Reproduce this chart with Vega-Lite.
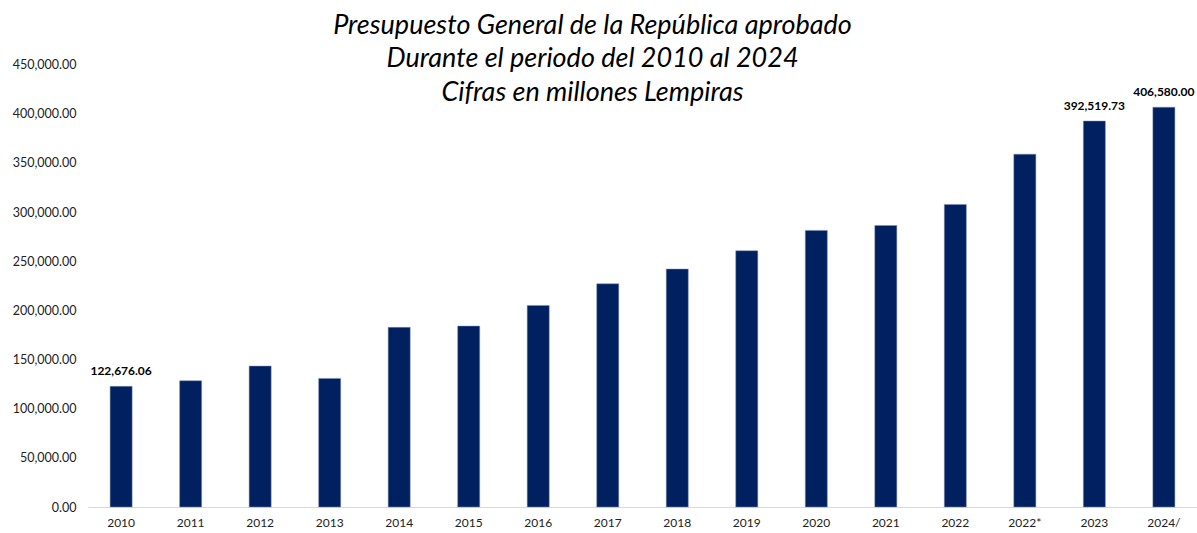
{
  "$schema": "https://vega.github.io/schema/vega-lite/v6.json",
  "autosize": {"type": "none"},
  "padding": {"left": 88, "top": 64.5, "right": 0, "bottom": 26},
  "width": 1109,
  "height": 442.5,
  "background": "white",
  "title": {
    "text": ["Presupuesto General de la República aprobado", "Durante el periodo del 2010 al 2024", "Cifras en millones Lempiras"],
    "font": "Lato",
    "fontStyle": "italic",
    "fontWeight": "normal",
    "fontSize": 27,
    "lineHeight": 33.5,
    "color": "#000000",
    "anchor": "middle",
    "frame": "group",
    "dx": -50,
    "offset": -48
  },
  "data": {
    "values": [
      {"year": "2010", "value": 122676.06},
      {"year": "2011", "value": 128400},
      {"year": "2012", "value": 143300},
      {"year": "2013", "value": 130800},
      {"year": "2014", "value": 182700},
      {"year": "2015", "value": 184000},
      {"year": "2016", "value": 205000},
      {"year": "2017", "value": 227000},
      {"year": "2018", "value": 242000},
      {"year": "2019", "value": 260600},
      {"year": "2020", "value": 281300},
      {"year": "2021", "value": 286300},
      {"year": "2022", "value": 307700},
      {"year": "2022*", "value": 358800},
      {"year": "2023", "value": 392519.73},
      {"year": "2024/", "value": 406580.00}
    ]
  },
  "encoding": {
    "x": {
      "field": "year",
      "type": "nominal",
      "sort": null,
      "scale": {"paddingInner": 0.683, "paddingOuter": 0.318},
      "axis": {
        "title": null,
        "labelAngle": 0,
        "labelFont": "Lato",
        "labelFontSize": 12,
        "labelColor": "#222222",
        "labelPadding": 10,
        "ticks": false,
        "domainColor": "#d9d9d9",
        "domainWidth": 1.2,
        "grid": false
      }
    },
    "y": {
      "field": "value",
      "type": "quantitative",
      "scale": {"domain": [0, 450000], "nice": false},
      "axis": {
        "title": null,
        "format": ",.2f",
        "values": [0, 50000, 100000, 150000, 200000, 250000, 300000, 350000, 400000, 450000],
        "labelFont": "Lato",
        "labelFontSize": 12.5,
        "labelColor": "#222222",
        "labelPadding": 12,
        "ticks": false,
        "domain": false,
        "grid": false
      }
    }
  },
  "layer": [
    {
      "mark": {"type": "bar", "color": "#002060", "stroke": "#7f8fb5", "strokeWidth": 0.5}
    },
    {
      "transform": [{"filter": "indexof(['2010','2023','2024/'], datum.year) >= 0"}],
      "mark": {"type": "text", "font": "Lato", "fontSize": 12, "fontWeight": "bold", "color": "#000000", "baseline": "middle", "dy": -15},
      "encoding": {
        "text": {"field": "value", "type": "quantitative", "format": ",.2f"}
      }
    }
  ],
  "config": {"view": {"stroke": null}}
}
